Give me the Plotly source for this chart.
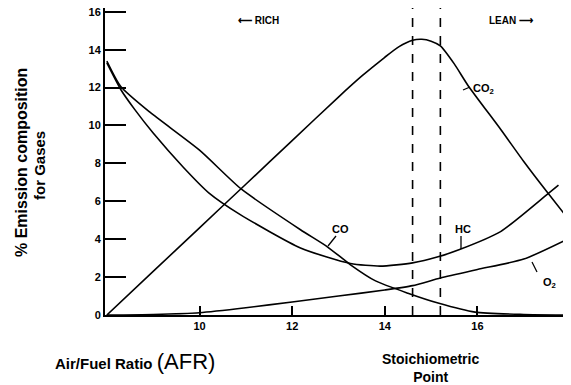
import plotly.graph_objects as go

# ---- data ----
afr_co2 = [8, 9, 10, 11, 12, 13, 13.5, 14, 14.3, 14.6, 14.8, 15.0, 15.2, 15.5, 15.8, 16.5, 17, 17.5, 18.05]
co2 = [0, 2.3, 4.6, 6.9, 9.2, 11.5, 12.6, 13.6, 14.15, 14.5, 14.55, 14.45, 14.2, 13.25, 12.1, 9.8, 8.1, 6.5, 4.8]

afr_co = [8, 8.3, 8.93, 10, 10.9, 12.18, 12.76, 13.26, 13.8, 14.5, 15.15, 15.95, 17, 18.05]
co = [13.4, 12.06, 10.7, 8.7, 6.65, 4.5, 3.6, 2.65, 1.8, 1.15, 0.63, 0.15, 0.03, 0]

afr_hc = [8, 8.3, 8.6, 9, 9.65, 10.2, 10.88, 12.18, 13.26, 13.9, 14.6, 15.15, 15.6, 16.5, 17.5, 17.75]
hc = [13.3, 11.9, 10.85, 9.6, 7.8, 6.45, 5.3, 3.54, 2.72, 2.58, 2.75, 3.07, 3.44, 4.4, 6.35, 6.85]

afr_o2 = [8, 9, 10, 11, 12, 13, 14, 14.6, 15.2, 16, 17, 17.9]
o2 = [0, 0.03, 0.12, 0.38, 0.69, 1.0, 1.32, 1.55, 1.95, 2.4, 2.95, 3.95]

stoich_bounds = [14.6, 15.2]
x_ticks = [10, 12, 14, 16, 18]
y_ticks = [0, 2, 4, 6, 8, 10, 12, 14, 16]

FONT = "Liberation Sans"
line_style = dict(color="black", width=1.6, shape="spline", smoothing=0.6)

fig = go.Figure()
for xs, ys, name in [(afr_co2, co2, "CO2"), (afr_co, co, "CO"), (afr_hc, hc, "HC"), (afr_o2, o2, "O2")]:
    fig.add_trace(go.Scatter(x=xs, y=ys, mode="lines", line=line_style, name=name,
                             showlegend=False, hoverinfo="skip"))

for xv in stoich_bounds:
    fig.add_shape(type="line", xref="x", yref="paper", x0=xv, x1=xv, y0=0, y1=1.01,
                  line=dict(color="black", width=1.6, dash="dash"))

# page has an 8px body margin, so the figure is 8px smaller on each axis
fig.update_layout(
    width=563, height=377,
    margin=dict(l=97, r=0, t=0, b=70, autoexpand=False),
    paper_bgcolor="white", plot_bgcolor="white",
    font=dict(family=FONT, color="black"),
    xaxis=dict(range=[7.96, 18.02], tickvals=x_ticks, ticktext=[f"<b>{v}</b>" for v in x_ticks],
               ticks="inside", ticklen=9, tickwidth=1.5, tickcolor="black", ticklabeloverflow="allow",
               showline=True, linecolor="black", linewidth=2, showgrid=False, zeroline=False,
               tickfont=dict(size=11, family=FONT)),
    yaxis=dict(range=[0, 16.2], tickvals=y_ticks, ticktext=[f"<b>{v}</b>" for v in y_ticks],
               ticks="inside", ticklen=21, tickwidth=1.5, tickcolor="black", ticklabeloverflow="allow",
               showline=True, linecolor="black", linewidth=2, showgrid=False, zeroline=False,
               tickfont=dict(size=11, family=FONT)),
)

def px_x(p):
    return (p - 105) / 466.0

def px_y(p):
    return (315 - p) / 307.0

ann = [
    dict(text="<b>⟵ RICH</b>", x=px_x(236), y=px_y(20), xanchor="left", font=dict(size=10)),
    dict(text="<b>LEAN ⟶</b>", x=px_x(487), y=px_y(20), xanchor="left", font=dict(size=10)),
    dict(text="<b>CO<sub>2</sub></b>", x=px_x(471), y=px_y(89), xanchor="left", font=dict(size=11)),
    dict(text="<b>CO</b>", x=px_x(340), y=px_y(229), xanchor="center", font=dict(size=11)),
    dict(text="<b>HC</b>", x=px_x(463), y=px_y(229), xanchor="center", font=dict(size=11)),
    dict(text="<b>O<sub>2</sub></b>", x=px_x(549), y=px_y(283), xanchor="center", font=dict(size=11)),
    dict(text="<b>Air/Fuel Ratio</b> <span style='font-size:22px'>(AFR)</span>", x=px_x(53), y=px_y(361),
         xanchor="left", font=dict(size=15)),
    dict(text="<b>Stoichiometric</b><br><b>Point</b>", x=px_x(430), y=px_y(368), xanchor="center",
         font=dict(size=14)),
    dict(text="<b>% Emission composition</b>", x=px_x(21), y=px_y(163), textangle=-90,
         xanchor="center", font=dict(size=16)),
    dict(text="<b>for Gases</b>", x=px_x(39), y=px_y(166), textangle=-90,
         xanchor="center", font=dict(size=15)),
]
for a in ann:
    a.update(xref="paper", yref="paper", showarrow=False, yanchor="middle")
    fig.add_annotation(**a)

# pointer lines for labels (page pixel positions converted to paper)
leaders = [((336, 236), (328, 246)), ((461, 236), (461, 249)), ((463, 90), (470, 87)), ((532, 262), (537, 272))]
for (xa, ya), (xb, yb) in leaders:
    fig.add_shape(type="line", xref="paper", yref="paper", x0=px_x(xa), y0=px_y(ya), x1=px_x(xb), y1=px_y(yb),
                  line=dict(color="black", width=1.3))

fig.write_html("out.html",
               post_script="document.documentElement.style.overflow='hidden';document.body.style.overflow='hidden';")
